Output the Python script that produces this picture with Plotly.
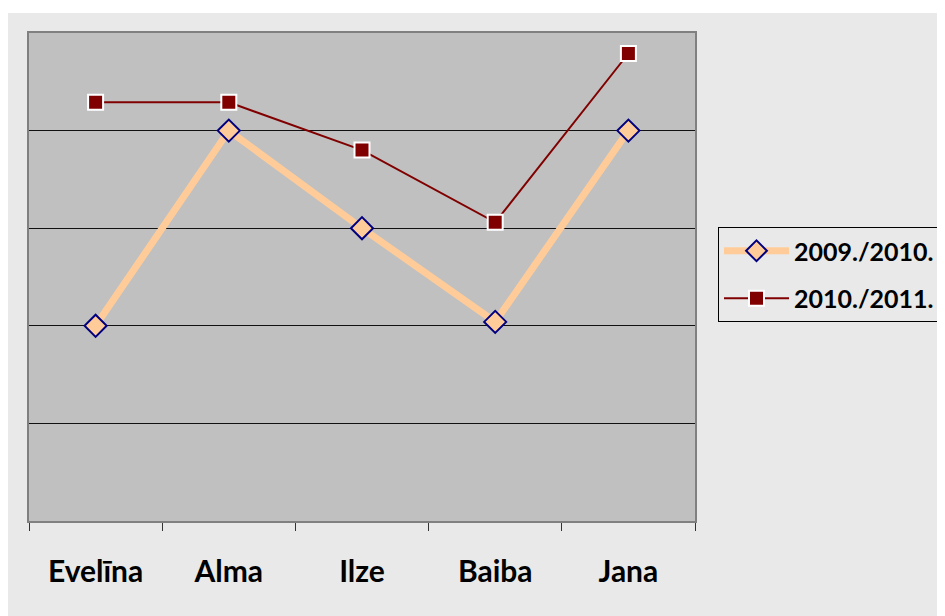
import plotly.graph_objects as go

categories = ["Evelīna", "Alma", "Ilze", "Baiba", "Jana"]
series_2009 = [2.0, 4.0, 3.0, 2.04, 4.0]
series_2010 = [4.29, 4.29, 3.80, 3.06, 4.79]
names = ["2009./2010.", "2010./2011."]

fig = go.Figure()
fig.add_trace(go.Scatter(
    x=categories, y=series_2009, name=names[0], mode="lines+markers",
    legendgroup="a",
    line=dict(color="#ffcc99", width=7),
    marker=dict(symbol="diamond", size=17, color="#ffcc99",
                line=dict(color="#000080", width=2)),
))
fig.add_trace(go.Scatter(
    x=categories, y=series_2010, name=names[1], mode="lines+markers",
    legendgroup="b",
    line=dict(color="#800000", width=2),
    marker=dict(symbol="square", size=15, color="#800000",
                line=dict(color="#ffffff", width=2)),
))

# white strip at the very top of the page
fig.add_shape(type="rect", xref="paper", yref="paper",
              x0=-21/666, x1=1 + 258/666, y0=1 + 20/488, y1=1 + 25/488,
              fillcolor="#ffffff", line=dict(width=0), layer="below")

fig.update_layout(
    width=945, height=616,
    margin=dict(l=21, r=258, t=25, b=103),
    paper_bgcolor="#e9e9e9",
    plot_bgcolor="#c0c0c0",
    font=dict(family="Lato, Open Sans, sans-serif", size=20, color="#000000"),
    showlegend=True,
    legend=dict(
        x=(710 - 21) / 666, y=(513 - 219) / 488, xanchor="left", yanchor="top",
        bgcolor="rgba(0,0,0,0)", bordercolor="#000000", borderwidth=1,
        font=dict(size=25, family="Lato, sans-serif", weight="bold"),
        tracegroupgap=12, traceorder="grouped", itemwidth=65,
    ),
    xaxis=dict(
        type="category", tickson="boundaries", ticks="outside", ticklen=8,
        tickcolor="#333333", showgrid=False,
        showline=True, linecolor="#808080", linewidth=2, mirror=True,
        tickfont=dict(size=30, weight="bold"), ticklabelstandoff=23,
        range=[-0.5, 4.5],
    ),
    yaxis=dict(
        range=[0, 5], dtick=1, showticklabels=False, ticks="",
        showgrid=True, gridcolor="#111111", gridwidth=1.3,
        showline=True, linecolor="#808080", linewidth=2, mirror=True,
        zeroline=False,
    ),
)

fig.write_html("out.html")
